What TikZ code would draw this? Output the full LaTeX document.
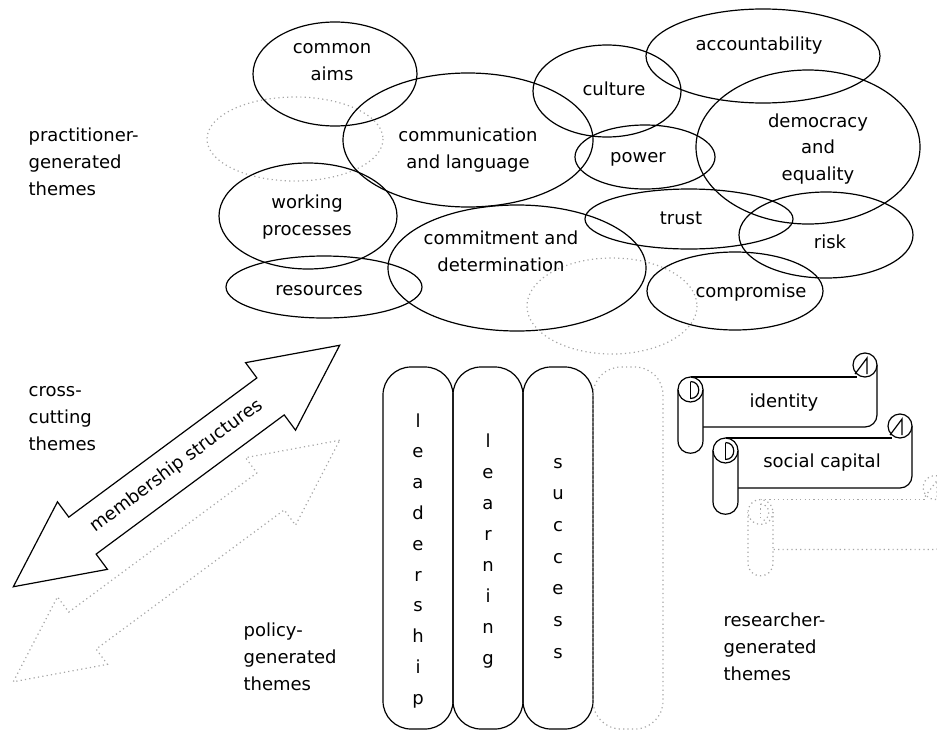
\documentclass[tikz,border=0pt]{standalone}
\usepackage{fontspec}
\setmainfont{DejaVu Sans}
\begin{document}
\begin{tikzpicture}[x=1pt,y=-1pt,
  line width=1.2pt,
  every node/.style={font=\fontsize{18}{26.8}\selectfont, inner sep=0pt},
  label/.style={align=left, anchor=base west},
  dotline/.style={draw=gray!70, dash pattern=on 1.2pt off 3.2pt},
  pillar/.style={rounded corners=28pt},
  letter/.style={anchor=base},
  scrollpic/.pic={
    % sheet of the scroll
    \fill[white] (0,-12.5) rectangle (186.5,37.5);
    \draw (0,-12.5) -- (166,-12.5);
    \draw[rounded corners=12pt] (186.5,-24.5) -- (186.5,37.5) -- (12.5,37.5);
    % rolled end at the top right
    \draw[fill=white] (174.5,-24.5) circle[radius=12];
    \draw (164.5,-15.5) -- (176.5,-31.5) -- (176.5,-15.5);
    % rolled end at the left
    \draw[fill=white] (-12.5,0) -- (-12.5,51) .. controls (-12.5,68) and (12.5,68) .. (12.5,51) -- (12.5,0);
    \draw[fill=white] (0,0) circle[radius=12.5];
    \draw (0,-8) -- (0,9);
    \draw (0,-8) .. controls (11,-8) and (11,9) .. (0,9);
  }
]
\useasboundingbox (0,0) rectangle (937,731);
\clip (0,0) rectangle (937,731);

% overlapping practitioner themes
\draw (335,74) ellipse [x radius=82, y radius=52];
\draw[dotline] (295,139) ellipse [x radius=88, y radius=42];
\draw (468,140) ellipse [x radius=125, y radius=67];
\draw (308,216) ellipse [x radius=89, y radius=53];
\draw (324,287) ellipse [x radius=98, y radius=31];
\draw (517,268) ellipse [x radius=129, y radius=63];
\draw (763,56) ellipse [x radius=117, y radius=47];
\draw (607,91) ellipse [x radius=74, y radius=46];
\draw (808,147) ellipse [x radius=112, y radius=77];
\draw (645,157) ellipse [x radius=70, y radius=32];
\draw (689,219) ellipse [x radius=104, y radius=30];
\draw (826,235) ellipse [x radius=87, y radius=43];
\draw (735,291) ellipse [x radius=88, y radius=39];
\draw[dotline] (612,306) ellipse [x radius=85, y radius=48];

\node[align=center] (aims) at (332,62) {common\\aims};
\node[align=center] (comm) at (468,150) {communication\\and language};
\node[align=center] (work) at (307,217) {working\\processes};
\node[align=center] (commit) at (501,251) {commitment and\\determination};
\node (res) at (319,291) {resources};
\node (cult) at (614,89) {culture};
\node (acc) at (759,46) {accountability};
\node[align=center] (demo) at (818,149) {democracy\\and\\equality};
\node (pow) at (638,159) {power};
\node (trust) at (681,218) {trust};
\node (risk) at (830,242) {risk};
\node (comp) at (751,293) {compromise};

% group labels (anchored at the baseline of their last line)
\node[label] (practitioner) at (28,195) {practitioner-\\generated\\themes};
\node[label] (cross) at (28,450) {cross-\\cutting\\themes};
\node[label] (policy) at (243,690) {policy-\\generated\\themes};
\node[label] (researcher) at (723,680) {researcher-\\generated\\themes};

% cross-cutting double arrows
\begin{scope}[shift={(176.5,561)}, rotate=36.5]
\draw[dotline] (203,0) -- (117,-42) -- (117,-23) -- (-117,-23) -- (-117,-42) -- (-203,0)
  -- (-117,42) -- (-117,23) -- (117,23) -- (117,42) -- cycle;
\end{scope}
\begin{scope}[shift={(176.5,466)}, rotate=36.5]
\draw[fill=white] (203,0) -- (117,-42) -- (117,-23) -- (-117,-23) -- (-117,-42) -- (-203,0)
  -- (-117,42) -- (-117,23) -- (117,23) -- (117,42) -- cycle;
\node[rotate=36.5] (memb) at (0,0) {membership structures};
\end{scope}

% policy pillars
\draw[pillar] (383,367) rectangle (453,729);
\draw[pillar] (453,367) rectangle (523,729);
\draw[pillar] (523,367) rectangle (593,729);
\draw[pillar, dotline] (593,367) rectangle (663,729);
\foreach \ch [count=\i from 0] in {l,e,a,d,e,r,s,h,i,p}
  \node[letter] (lead\i) at (418,427+\i*30.8) {\ch};
\foreach \ch [count=\i from 0] in {l,e,a,r,n,i,n,g}
  \node[letter] (learn\i) at (488,447+\i*31.1) {\ch};
\foreach \ch [count=\i from 0] in {s,u,c,c,e,s,s}
  \node[letter] (succ\i) at (558,468+\i*31.7) {\ch};

% researcher scrolls
\pic at (690.5,389.5) {scrollpic};
\pic at (725.5,450.5) {scrollpic};
\pic[gray!70, dash pattern=on 1.2pt off 3.2pt] at (760.5,512) {scrollpic};
\node (ident) at (784,403) {identity};
\node (social) at (822,463) {social capital};
\end{tikzpicture}
\end{document}
